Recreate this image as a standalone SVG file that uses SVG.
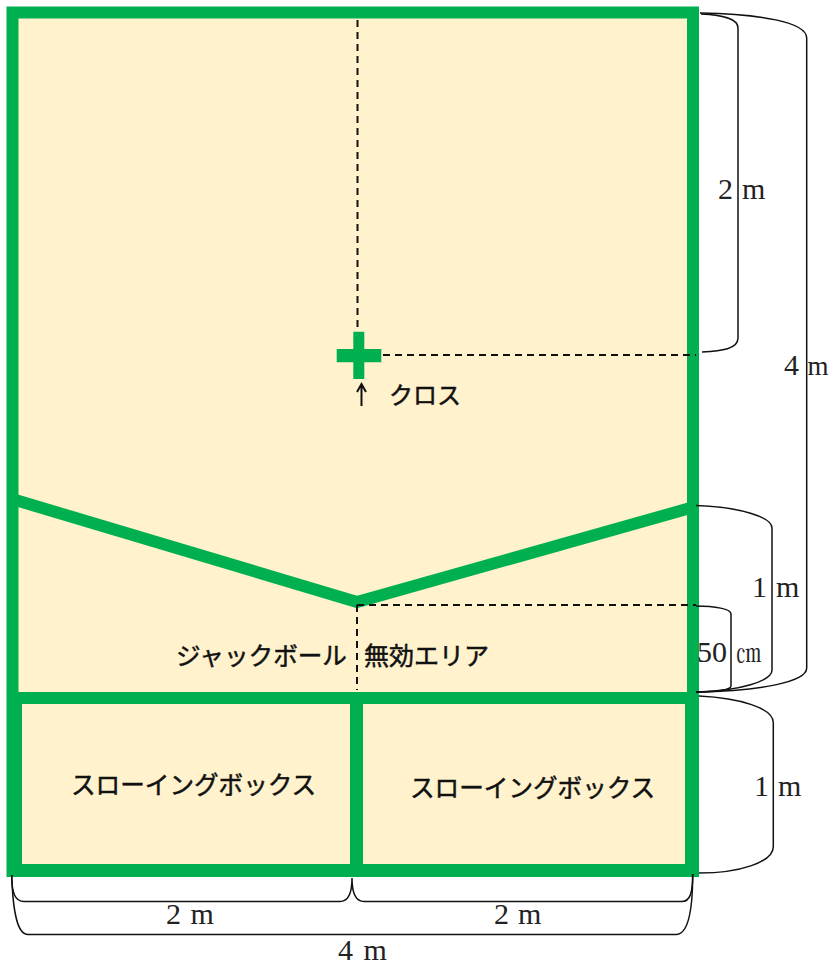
<svg xmlns="http://www.w3.org/2000/svg" width="829" height="965" viewBox="0 0 829 965">
<style>
.b{fill:none;stroke:#111;stroke-width:1.5}
.d{fill:none;stroke:#111;stroke-width:2;stroke-dasharray:7 5}
.c{fill:#fff2cc}
.gr{fill:#00b050}
.jp{font-family:"Noto Sans CJK JP","Noto Sans",sans-serif;font-size:24.6px;font-weight:400;fill:#111;stroke:#111;stroke-width:.5}
.s{font-family:"Liberation Serif","Noto Serif CJK JP",serif;font-size:30px;fill:#222}
</style>
<g id="field">
<rect class="gr" x="6.500" y="6.500" width="692.500" height="686"/>
<rect class="c" x="18.500" y="18.500" width="668.500" height="673.500"/>
<path d="M12 499L357 602L693 507.300" fill="none" stroke="#00b050" stroke-width="12"/>
</g>
<g id="box-left">
<path class="gr" d="M6.500 692H356.500V877H6.500Z"/>
<rect class="c" x="22" y="704" width="328" height="160"/>
</g>
<g id="box-right">
<path class="gr" d="M350 692H699V877H350Z"/>
<rect class="c" x="363" y="704" width="322" height="160"/>
</g>
<g id="cross"><path class="gr" d="M336.700 349H353.300V331.700H364.300V349H381.300V362.300H364.300V379H353.300V362.300H336.700Z"/></g>
<g id="connectors">
<path class="d" d="M357.500 20V330M383 355H696M357 605H696M357 605V690"/>
<path class="b" d="M701 14C722 15 738 18 738 28V338C738 349 722 351 702 352"/>
<path class="b" d="M700 13C760 14 806.700 22 806.700 38V668C806.700 682 760 691 696 692"/>
<path class="b" d="M696 505.600C740 507 772 517 772 528V670C772 681 740 691 696 692"/>
<path class="b" d="M696 606C715 606 731 609 731 614V686C731 690 715 692 696 692"/>
<path class="b" d="M699 696C740 698 773.300 708 773.300 722.700V846.700C773.300 862 740 873 699 873"/>
<path class="b" d="M11.700 875C11.700 893 15 901.500 24 901.500H340C349 901.500 352 893 352 878C352 893 355 901.500 364 901.500H682C690 901.500 692.700 893 692.700 874"/>
<path class="b" d="M11.700 875C13 915 18 934.500 28 934.500H676C687 934.500 692.700 915 692.700 874"/>
<path fill="none" stroke="#111" stroke-width="2" d="M361.500 406V385M357 392L361.500 384L366 392"/>
</g>
<g id="labels">
<text class="jp" x="389" y="404" style="font-size:24px">クロス</text>
<text class="jp" x="176" y="665">ジャックボール</text>
<text class="jp" x="364" y="665" style="font-size:25px">無効エリア</text>
<text class="jp" x="71" y="794">スローイングボックス</text>
<text class="jp" x="410" y="797">スローイングボックス</text>
<text class="s" x="718" y="199">2</text><text class="s" x="742" y="199">m</text>
<text class="s" x="784" y="375">4</text><text class="s" x="807.500" y="375" style="font-size:27px">m</text>
<text class="s" x="752" y="597">1</text><text class="s" x="776" y="597">m</text>
<text class="s" x="754" y="796">1</text><text class="s" x="778" y="796">m</text>
<text class="s" x="697" y="661.500">50</text><text class="s" x="736" y="661.500" style="font-size:25px">㎝</text>
<text class="s" x="166" y="924">2</text><text class="s" x="190.500" y="924">m</text>
<text class="s" x="494" y="924">2</text><text class="s" x="518" y="924">m</text>
<text class="s" x="338" y="960">4</text><text class="s" x="363.500" y="960">m</text>
</g>
</svg>
